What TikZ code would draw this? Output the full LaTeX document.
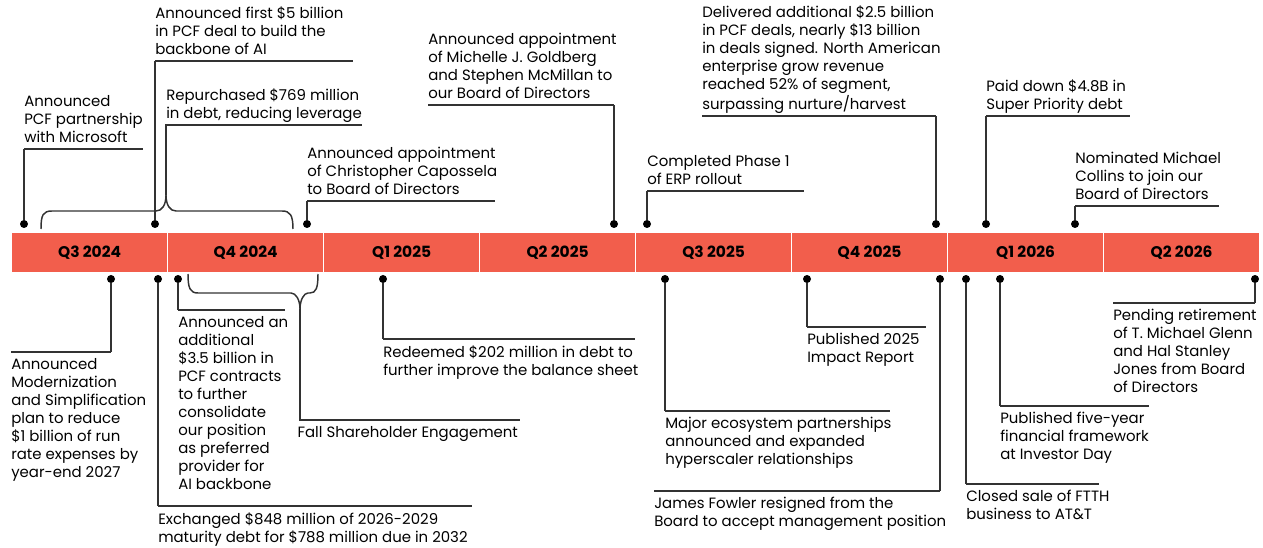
\documentclass[tikz,border=0pt]{standalone}
\usepackage{fontspec}
\setmainfont{Poppins}
\usetikzlibrary{positioning}
\definecolor{bar_red}{RGB}{242,94,76}
\definecolor{line_grey}{RGB}{50,50,50}

\begin{document}
\begin{tikzpicture}[
      x=0.75pt, y=-0.75pt,
      quarter/.style={
         anchor=north west,
         fill=bar_red,
         draw=white,
         line width=0.9pt,
         inner sep=0pt,
         minimum width=117pt,
         minimum height=30pt,
         font=\bfseries\fontsize{11.6}{13}\selectfont},
      event/.style={
         circle,
         fill=black,
         inner sep=0pt,
         minimum size=6pt},
      link/.style={
         draw=line_grey,
         line width=1.1pt},
      note/.style={
         align=left,
         inner sep=0pt,
         font=\fontsize{11.2}{13.5}\selectfont},
      note_up/.style={
         note,
         text depth=0pt},
      ]
      \useasboundingbox (0,0) rectangle (1263,548);

      % the quarters
      \foreach \lbl [count=\i from 0] in {Q3 2024,Q4 2024,Q1 2025,Q2 2025,Q3 2025,Q4 2025,Q1 2026,Q2 2026}
        \node[quarter] (q\i) at ({11+156*\i},232) {\lbl};

    \foreach \dx/\ly/\lx/\rx/\nm/\txt in {% dot x/line y/line left/line right/name/text
      24/149/24/143/msft/{Announced\\PCF partnership\\with Microsoft},
      155/61/155/353/first/{Announced first \$5 billion\\in PCF deal to build the\\backbone of AI},
      307/201/307/495/capossela/{Announced appointment\\of Christopher Capossela\\to Board of Directors},
      614/105/428/614/goldberg/{Announced appointment\\of Michelle J. Goldberg\\and Stephen McMillan to\\our Board of Directors},
      647/191/647/804/erp/{Completed Phase 1\\of ERP rollout},
      936/116/702/936/deals/{Delivered additional \$2.5 billion\\in PCF deals, nearly \$13 billion\\in deals signed. North American\\enterprise grow revenue\\reached 52\% of segment,\\surpassing nurture/harvest},
      986/116/986/1130/paydown/{Paid down \$4.8B in\\Super Priority debt},
      1075/206/1075/1219/collins/{Nominated Michael\\Collins to join our\\Board of Directors}}
    {
      \node[event] (d\nm) at (\dx,224) {};
      \coordinate (l\nm) at (\lx,\ly);
      \coordinate (r\nm) at (\rx,\ly);
      \draw[link] (l\nm) -- (r\nm) (d\nm) -- (d\nm |- l\nm);
      \node[note_up, above right=5pt and 0pt of l\nm] (t\nm) {\txt};
    }

    \foreach \dx/\ly/\lx/\rx/\nm/\txt in {% dot x/line y/line left/line right/name/text
      111/352/11/111/modern/{Announced\\Modernization\\and Simplification\\plan to reduce\\\$1 billion of run\\rate expenses by\\year-end 2027},
      158/506/158/472/exchange/{Exchanged \$848 million of 2026-2029\\maturity debt for \$788 million due in 2032},
      178/310/178/285/addpcf/{Announced an\\additional\\\$3.5 billion in\\PCF contracts\\to further\\consolidate\\our position\\as preferred\\provider for\\AI backbone},
      383/339/383/635/redeem/{Redeemed \$202 million in debt to\\further improve the balance sheet},
      665/411/665/890/ecosys/{Major ecosystem partnerships\\announced and expanded\\hyperscaler relationships},
      807/327/807/926/impact/{Published 2025\\Impact Report},
      940/491/654/940/fowler/{James Fowler resigned from the\\Board to accept management position},
      966/484/966/1099/ftth/{Closed sale of FTTH\\business to AT\&T},
      1000/406/1000/1149/fiveyear/{Published five-year\\financial framework\\at Investor Day},
      1255/303/1113/1255/retire/{Pending retirement\\of T. Michael Glenn\\and Hal Stanley\\Jones from Board\\of Directors}}
    {
      \node[event] (d\nm) at (\dx,279) {};
      \coordinate (l\nm) at (\lx,\ly);
      \coordinate (r\nm) at (\rx,\ly);
      \draw[link] (l\nm) -- (r\nm) (d\nm) -- (d\nm |- l\nm);
      \node[note, below right=4.5pt and 0pt of l\nm] (t\nm) {\txt};
    }

    % brace over Q3 and Q4 2024
    \coordinate (tipup) at (166,195);
    \coordinate (lrepurchase) at (166,125);
    \coordinate (rrepurchase) at (362,125);
    \draw[link] (41,229) .. controls (41,215) and (43,211) .. (52,211) -- (156,211)
        .. controls (162,211) and (166,205) .. (tipup)
        .. controls (166,205) and (170,211) .. (176,211) -- (282,211)
        .. controls (290,211) and (293,215) .. (293,229);
    \draw[link] (tipup) -- (lrepurchase) -- (rrepurchase);
    \node[note_up, above right=5pt and 0pt of lrepurchase] (trepurchase)
        {Repurchased \$769 million\\in debt, reducing leverage};

    % brace under Q4 2024
    \coordinate (tipdown) at (300,309);
    \coordinate (lshareholder) at (300,420);
    \coordinate (rshareholder) at (520,420);
    \draw[link] (188,274) .. controls (188,288) and (190,293) .. (198,293) -- (291,293)
        .. controls (296,293) and (300,300) .. (tipdown)
        .. controls (300,300) and (304,293) .. (308,293) -- (310,293)
        .. controls (316,293) and (318,288) .. (318,274);
    \draw[link] (tipdown) -- (lshareholder) -- (rshareholder);
    \node[note, below right=4.5pt and -2pt of lshareholder] (tshareholder)
        {Fall Shareholder Engagement};
\end{tikzpicture}
\end{document}
